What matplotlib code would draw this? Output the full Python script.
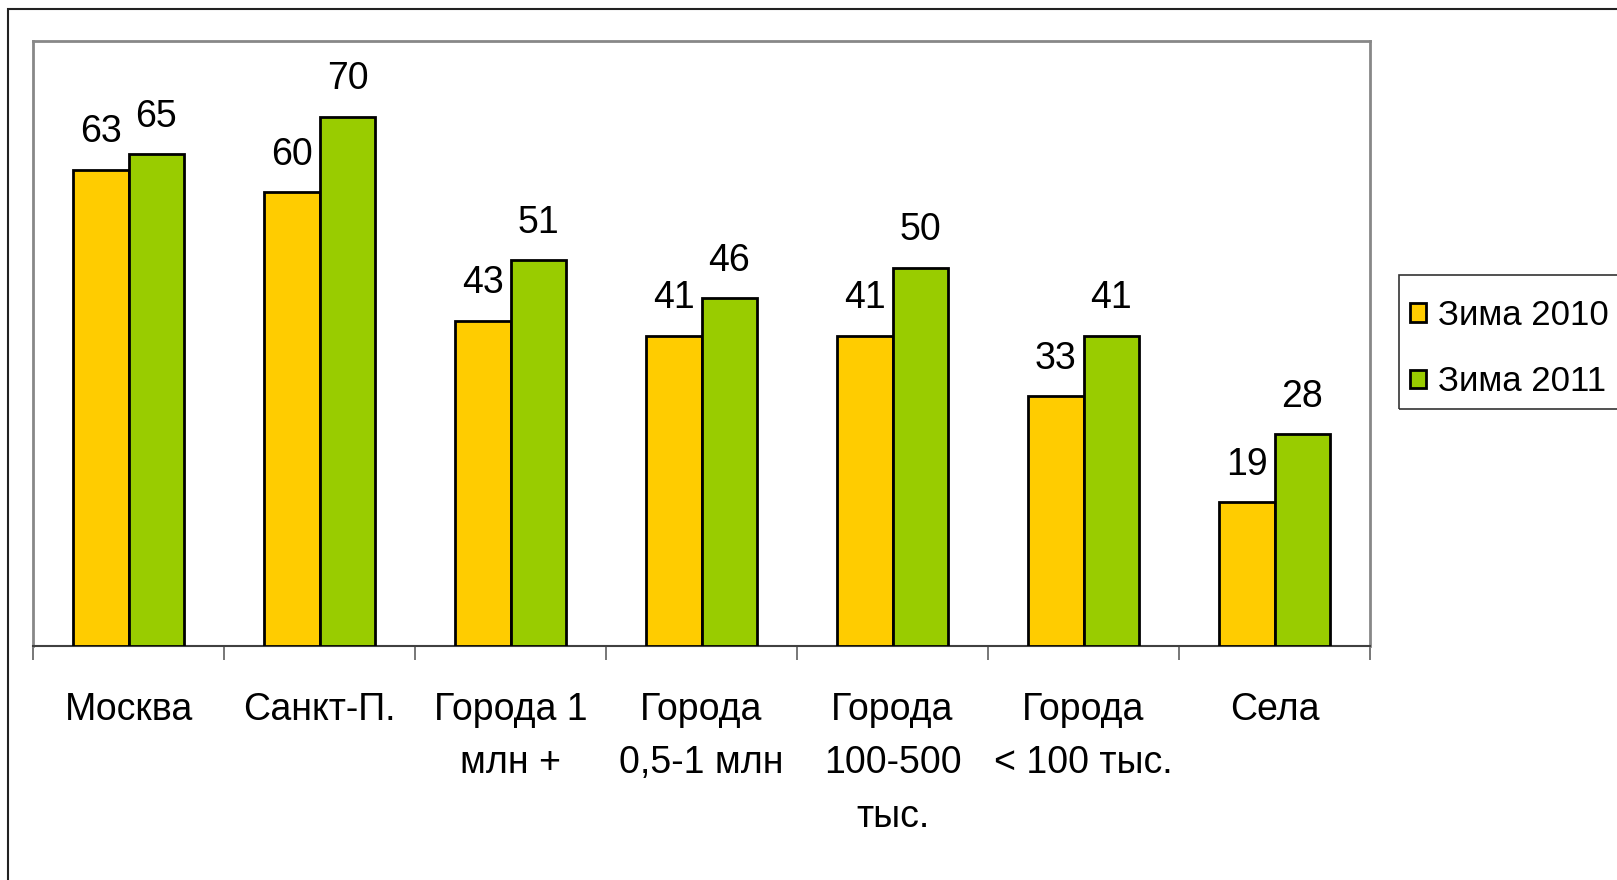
import matplotlib.pyplot as plt
from matplotlib.patches import Rectangle
import numpy as np

# Data
categories = ["Москва", "Санкт-П.", "Города 1\nмлн +", "Города\n0,5-1 млн",
              "Города\n100-500\nтыс.", "Города\n< 100 тыс.", "Села"]
winter_2010 = [63, 60, 43, 41, 41, 33, 19]
winter_2011 = [65, 70, 51, 46, 50, 41, 28]
series_names = ["Зима 2010", "Зима 2011"]

plt.rcParams['font.family'] = ['Liberation Sans', 'DejaVu Sans']

W, H = 1617, 880
fig = plt.figure(figsize=(W / 100, H / 100), dpi=100)

# plot area in pixel coords
left, right, top, bottom = 33, 1370, 41, 646
ax = fig.add_axes([left / W, 1 - bottom / H, (right - left) / W, (bottom - top) / H])

x = np.arange(len(categories))
bw = 0.293
b1 = ax.bar(x - bw / 2, winter_2010, bw, color="#FFCC00", edgecolor="black",
            linewidth=2, label=series_names[0], zorder=3)
b2 = ax.bar(x + bw / 2, winter_2011, bw, color="#99CC00", edgecolor="black",
            linewidth=2, label=series_names[1], zorder=3)

for bars in (b1, b2):
    for rect in bars:
        ax.annotate(f"{rect.get_height():g}",
                    (rect.get_x() + rect.get_width() / 2, rect.get_height()),
                    xytext=(0, 14), textcoords="offset points",
                    ha="center", va="bottom", fontsize=27)

ax.set_xlim(-0.5, len(categories) - 0.5)
ax.set_ylim(0, 80)
ax.set_yticks([])

# category labels at centres, tick marks at slot boundaries
ax.set_xticks(x)
ax.set_xticklabels(categories, fontsize=27, linespacing=1.62)
ax.tick_params(axis="x", which="major", length=0, pad=33)
ax.set_xticks(np.arange(-0.5, len(categories)), minor=True)
ax.tick_params(axis="x", which="minor", length=10, width=1.2, color="#606060")

for side in ("left", "top", "right"):
    ax.spines[side].set_color("#888888")
    ax.spines[side].set_linewidth(2)
ax.spines["bottom"].set_color("#404040")
ax.spines["bottom"].set_linewidth(1.5)

# legend without its own frame; box drawn separately (it runs off the right edge)
leg = fig.legend(handles=[b1, b2], labels=series_names, loc="upper left",
                 bbox_to_anchor=(1410 / W, 1 - 299 / H), fontsize=25,
                 frameon=False, handlelength=0.45, handleheight=0.45,
                 handletextpad=0.35, labelspacing=0.96,
                 borderpad=0, borderaxespad=0)
fig.add_artist(Rectangle((1399 / W, 1 - 409 / H), 0.2, 134 / H,
                         transform=fig.transFigure, fill=False,
                         edgecolor="#333333", linewidth=1.2))

# outer frame of the slide (only top and left edges visible)
fig.add_artist(Rectangle((8 / W, -0.1), 2, 1.1 - 9 / H, transform=fig.transFigure,
                         fill=False, edgecolor="#222222", linewidth=1.5))

fig.savefig("out.png", dpi=100)
